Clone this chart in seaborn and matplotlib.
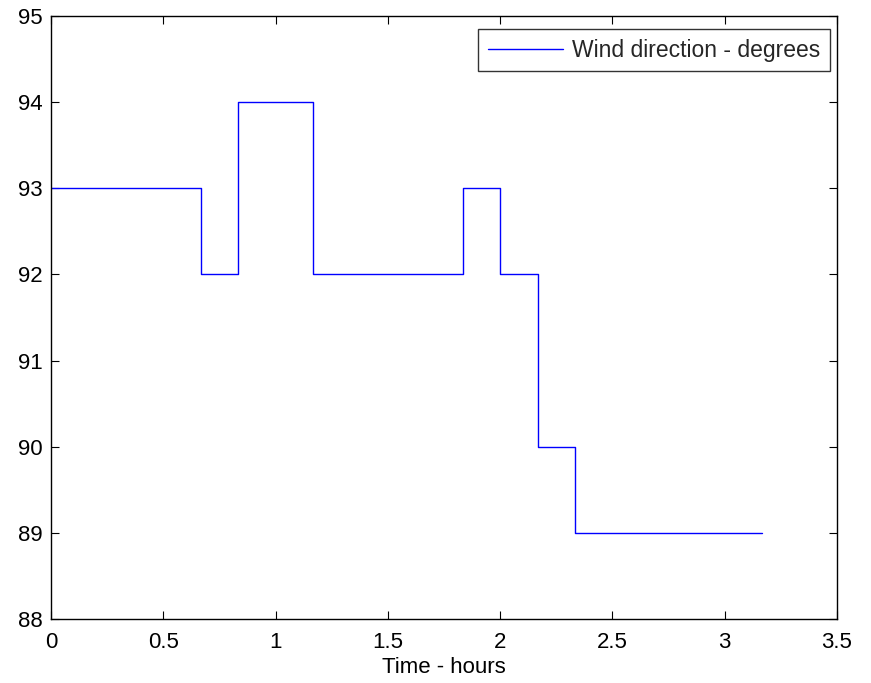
import matplotlib
matplotlib.use("Agg")
import matplotlib.pyplot as plt
import seaborn as sns
import pandas as pd

# Sample times (hours, 10-minute steps) and recorded wind direction (degrees)
time_hours = [0, 1/6, 2/6, 3/6, 4/6, 5/6, 6/6, 7/6, 8/6, 9/6, 10/6,
              11/6, 12/6, 13/6, 14/6, 15/6, 16/6, 17/6, 18/6, 19/6]
wind_dir = [93, 93, 93, 93, 92, 94, 94, 92, 92, 92, 92,
            93, 92, 90, 89, 89, 89, 89, 89, 89]

x_ticks = [0, 0.5, 1, 1.5, 2, 2.5, 3, 3.5]
x_tick_labels = ["0", "0.5", "1", "1.5", "2", "2.5", "3", "3.5"]
y_ticks = [88, 89, 90, 91, 92, 93, 94, 95]

sns.set_theme(style="white")
plt.rcParams["font.family"] = ["Liberation Sans", "DejaVu Sans"]

df = pd.DataFrame({"t": time_hours, "dir": wind_dir})

fig = plt.figure(figsize=(8.71, 6.83), dpi=100)
ax = fig.add_axes([0.0586, 0.0937, 0.9024, 0.8829])

sns.lineplot(data=df, x="t", y="dir", ax=ax, estimator=None,
             drawstyle="steps-post", color="#0000ff", linewidth=1.0,
             label="Wind direction - degrees")

ax.set_xlim(0, 3.5)
ax.set_ylim(88, 95)
ax.set_xticks(x_ticks)
ax.set_xticklabels(x_tick_labels)
ax.set_yticks(y_ticks)
ax.set_xlabel("Time - hours", fontsize=16, color="black", labelpad=3)
ax.set_ylabel("")

for s in ax.spines.values():
    s.set_visible(True)
    s.set_color("black")
    s.set_linewidth(1.0)

ax.tick_params(axis="both", which="major", direction="in", length=6,
               width=0.8, color="black", labelsize=16, labelcolor="black",
               top=True, right=True, bottom=True, left=True)
ax.tick_params(axis="x", pad=9)
ax.tick_params(axis="y", pad=6)

leg = ax.legend(loc="upper right", bbox_to_anchor=(0.991, 0.978),
                borderaxespad=0, fontsize=16.5, frameon=True, fancybox=False,
                handlelength=3.3, handletextpad=0.38, borderpad=0.42)
leg.get_frame().set_edgecolor("black")
leg.get_frame().set_linewidth(1.0)

fig.savefig("out.png", dpi=100, facecolor="white")
